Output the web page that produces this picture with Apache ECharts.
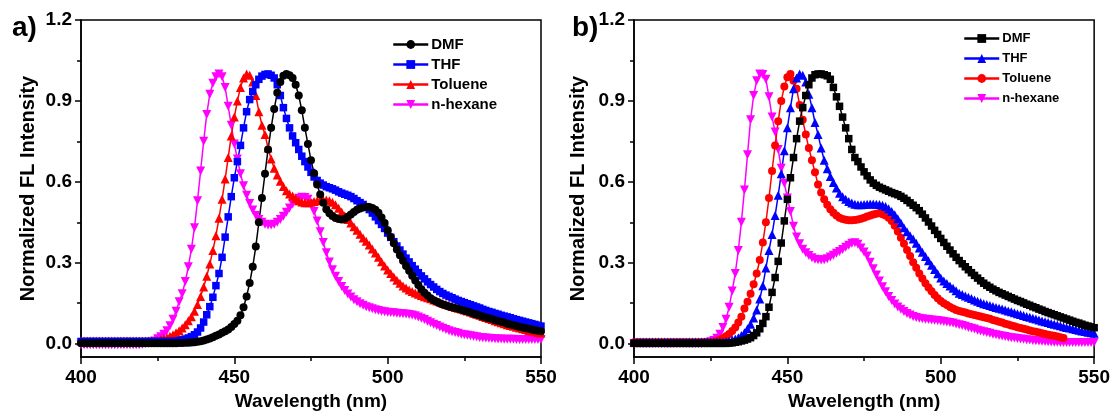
<!DOCTYPE html>
<html>
<head>
<meta charset="utf-8">
<script src="https://cdn.jsdelivr.net/npm/echarts@6/dist/echarts.min.js"></script>
<style>html,body{margin:0;padding:0;background:#fff}#c{width:1113px;height:416px}</style>
</head>
<body>
<div id="c"></div>
<script>
// Wavelength sampling (nm), 1 nm steps 400..550
var wavelengths = [];
for (var w = 400; w <= 550; w++) wavelengths.push(w);

var xTicks = [400, 450, 500, 550];
var yTicks = [0, 0.3, 0.6, 0.9, 1.2];
var yMinorTicks = [0.15, 0.45, 0.75, 1.05];
var legendNames = ['DMF', 'THF', 'Toluene', 'n-hexane'];

// ---- Panel a) ----
var aDMF = [
0.001,0.001,0.001,0.001,0.001,0.001,0.001,0.001,0.001,0.001,
0.001,0.001,0.001,0.001,0.001,0.001,0.001,0.001,0.001,0.001,
0.001,0.001,0.001,0.001,0.001,0.001,0.001,0.001,0.001,0.001,
0.001,0.001,0.002,0.002,0.003,0.003,0.004,0.005,0.007,0.009,
0.012,0.015,0.019,0.024,0.029,0.034,0.04,0.046,0.052,0.062,
0.073,0.085,0.105,0.135,0.175,0.225,0.285,0.36,0.45,0.54,
0.63,0.72,0.8,0.87,0.93,0.97,0.993,1.0,0.995,0.985,
0.96,0.92,0.865,0.8,0.74,0.68,0.632,0.59,0.553,0.522,
0.498,0.483,0.473,0.466,0.462,0.46,0.463,0.47,0.479,0.488,
0.496,0.501,0.505,0.507,0.507,0.503,0.496,0.485,0.468,0.447,
0.42,0.395,0.372,0.349,0.328,0.307,0.288,0.27,0.252,0.234,
0.217,0.202,0.189,0.178,0.168,0.161,0.155,0.15,0.145,0.141,
0.138,0.135,0.132,0.129,0.126,0.122,0.119,0.115,0.111,0.108,
0.104,0.101,0.097,0.094,0.091,0.087,0.084,0.081,0.078,0.074,
0.071,0.068,0.065,0.062,0.06,0.057,0.055,0.052,0.05,0.048,
0.046];
var aTHF = [
0.008,0.008,0.008,0.008,0.008,0.008,0.008,0.008,0.008,0.008,
0.008,0.008,0.008,0.008,0.008,0.008,0.008,0.008,0.008,0.008,
0.008,0.008,0.008,0.008,0.008,0.008,0.008,0.008,0.008,0.008,
0.008,0.009,0.011,0.014,0.017,0.021,0.026,0.033,0.043,0.058,
0.08,0.107,0.137,0.172,0.215,0.26,0.32,0.395,0.47,0.545,
0.615,0.675,0.735,0.8,0.86,0.905,0.935,0.96,0.98,0.992,
0.998,1.0,0.995,0.985,0.96,0.92,0.875,0.835,0.8,0.77,
0.745,0.72,0.695,0.675,0.655,0.635,0.618,0.605,0.595,0.588,
0.582,0.578,0.574,0.569,0.563,0.558,0.554,0.55,0.545,0.538,
0.53,0.523,0.516,0.508,0.497,0.484,0.47,0.456,0.442,0.427,
0.41,0.394,0.378,0.362,0.347,0.332,0.317,0.303,0.289,0.276,
0.263,0.251,0.24,0.229,0.219,0.21,0.201,0.193,0.186,0.18,
0.175,0.17,0.165,0.16,0.156,0.152,0.148,0.144,0.14,0.136,
0.132,0.127,0.123,0.119,0.116,0.112,0.109,0.105,0.102,0.099,
0.096,0.092,0.089,0.086,0.083,0.08,0.077,0.074,0.071,0.068,
0.065];
var aToluene = [
0.01,0.01,0.01,0.01,0.01,0.01,0.01,0.01,0.01,0.01,
0.01,0.01,0.01,0.01,0.01,0.01,0.01,0.01,0.01,0.01,
0.01,0.01,0.01,0.01,0.01,0.012,0.015,0.018,0.022,0.027,
0.033,0.04,0.048,0.058,0.07,0.085,0.1,0.12,0.145,0.175,
0.21,0.25,0.295,0.345,0.4,0.465,0.535,0.61,0.69,0.77,
0.84,0.9,0.95,0.985,1.0,0.995,0.97,0.92,0.86,0.81,
0.775,0.725,0.685,0.65,0.625,0.602,0.583,0.567,0.555,0.547,
0.538,0.53,0.525,0.522,0.522,0.524,0.527,0.53,0.532,0.533,
0.533,0.53,0.524,0.515,0.502,0.488,0.474,0.46,0.447,0.433,
0.42,0.406,0.392,0.38,0.366,0.351,0.336,0.32,0.304,0.288,
0.273,0.26,0.247,0.235,0.224,0.214,0.206,0.199,0.193,0.188,
0.183,0.178,0.174,0.17,0.166,0.162,0.158,0.154,0.15,0.146,
0.142,0.138,0.134,0.131,0.128,0.125,0.121,0.117,0.113,0.109,
0.105,0.101,0.097,0.093,0.089,0.085,0.081,0.077,0.074,0.07,
0.067,0.064,0.061,0.058,0.055,0.052,0.049,0.047,0.044,0.041,
0.039];
var aHexane = [
-0.004,-0.004,-0.004,-0.004,-0.004,-0.004,-0.004,-0.004,-0.004,-0.004,
-0.004,-0.004,-0.004,-0.004,-0.004,-0.004,-0.004,-0.004,-0.004,-0.004,
-0.002,0.0,0.003,0.006,0.01,0.018,0.025,0.035,0.048,0.066,
0.09,0.12,0.155,0.185,0.23,0.285,0.35,0.43,0.53,0.64,
0.75,0.85,0.925,0.965,0.99,1.0,0.99,0.95,0.88,0.81,
0.74,0.685,0.63,0.585,0.55,0.52,0.495,0.475,0.46,0.45,
0.443,0.44,0.44,0.443,0.45,0.46,0.472,0.487,0.503,0.518,
0.53,0.539,0.543,0.542,0.535,0.518,0.49,0.455,0.415,0.375,
0.337,0.303,0.274,0.25,0.23,0.212,0.197,0.184,0.173,0.163,
0.155,0.148,0.142,0.137,0.133,0.129,0.126,0.123,0.12,0.118,
0.116,0.115,0.114,0.113,0.112,0.111,0.11,0.108,0.106,0.103,
0.099,0.094,0.089,0.083,0.077,0.072,0.067,0.062,0.057,0.052,
0.048,0.044,0.041,0.038,0.035,0.033,0.031,0.029,0.027,0.025,
0.023,0.022,0.021,0.02,0.019,0.018,0.017,0.017,0.016,0.016,
0.016,0.016,0.015,0.015,0.015,0.015,0.015,0.015,0.015,0.015,
0.015];

// ---- Panel b) ----
var bDMF = [
0.001,0.001,0.001,0.001,0.001,0.001,0.001,0.001,0.001,0.001,
0.001,0.001,0.001,0.001,0.001,0.001,0.001,0.001,0.001,0.001,
0.001,0.001,0.001,0.001,0.001,0.001,0.001,0.001,0.001,0.001,
0.001,0.002,0.003,0.005,0.007,0.01,0.013,0.017,0.022,0.03,
0.04,0.055,0.075,0.1,0.135,0.19,0.245,0.305,0.373,0.455,
0.535,0.615,0.69,0.76,0.825,0.875,0.92,0.96,0.985,0.997,
1.0,1.0,0.997,0.993,0.98,0.95,0.915,0.88,0.84,0.8,
0.76,0.72,0.69,0.675,0.655,0.637,0.622,0.607,0.595,0.587,
0.58,0.575,0.57,0.565,0.56,0.556,0.552,0.546,0.539,0.531,
0.522,0.513,0.504,0.493,0.48,0.466,0.451,0.436,0.42,0.405,
0.39,0.375,0.361,0.347,0.333,0.32,0.308,0.296,0.285,0.274,
0.263,0.253,0.243,0.233,0.224,0.216,0.209,0.202,0.196,0.19,
0.185,0.18,0.175,0.17,0.165,0.16,0.156,0.151,0.146,0.142,
0.137,0.133,0.128,0.124,0.119,0.115,0.111,0.107,0.103,0.099,
0.095,0.091,0.087,0.083,0.079,0.076,0.072,0.068,0.065,0.062,
0.059];
var bTHF = [
0.006,0.006,0.006,0.006,0.006,0.006,0.006,0.006,0.006,0.006,
0.006,0.006,0.006,0.006,0.006,0.006,0.006,0.006,0.006,0.006,
0.006,0.006,0.006,0.006,0.006,0.006,0.006,0.006,0.006,0.006,
0.008,0.01,0.013,0.017,0.022,0.03,0.04,0.055,0.072,0.095,
0.125,0.165,0.215,0.28,0.345,0.405,0.475,0.55,0.63,0.715,
0.8,0.875,0.945,0.985,1.0,0.995,0.97,0.925,0.875,0.82,
0.775,0.725,0.68,0.648,0.62,0.597,0.577,0.558,0.545,0.535,
0.527,0.521,0.517,0.515,0.515,0.516,0.517,0.518,0.518,0.517,
0.516,0.513,0.508,0.5,0.49,0.478,0.463,0.447,0.43,0.415,
0.4,0.388,0.372,0.355,0.339,0.323,0.307,0.291,0.275,0.259,
0.243,0.232,0.223,0.214,0.205,0.196,0.187,0.182,0.177,0.172,
0.167,0.162,0.157,0.152,0.148,0.145,0.141,0.138,0.134,0.131,
0.128,0.125,0.121,0.118,0.114,0.111,0.108,0.104,0.101,0.098,
0.094,0.091,0.088,0.084,0.081,0.078,0.075,0.072,0.069,0.066,
0.063,0.06,0.058,0.055,0.052,0.05,0.047,0.045,0.042,0.04,
0.038];
// Toluene in panel b stops at 540 nm
var bToluene = [
0.005,0.005,0.005,0.005,0.005,0.005,0.005,0.005,0.005,0.005,
0.005,0.005,0.005,0.005,0.005,0.005,0.005,0.005,0.005,0.005,
0.005,0.005,0.005,0.005,0.005,0.005,0.007,0.01,0.014,0.02,
0.027,0.036,0.047,0.06,0.078,0.1,0.13,0.155,0.185,0.22,
0.26,0.31,0.375,0.45,0.54,0.64,0.735,0.825,0.9,0.953,
0.988,1.0,0.975,0.945,0.885,0.83,0.775,0.725,0.68,0.635,
0.59,0.56,0.535,0.515,0.498,0.485,0.475,0.467,0.462,0.459,
0.457,0.457,0.458,0.46,0.463,0.467,0.471,0.475,0.479,0.482,
0.484,0.48,0.475,0.467,0.455,0.437,0.416,0.393,0.37,0.347,
0.325,0.302,0.281,0.26,0.241,0.224,0.208,0.194,0.18,0.168,
0.158,0.15,0.143,0.136,0.13,0.125,0.121,0.118,0.115,0.112,
0.109,0.106,0.103,0.101,0.098,0.095,0.092,0.088,0.085,0.081,
0.078,0.074,0.071,0.067,0.064,0.061,0.058,0.055,0.052,0.049,
0.046,0.044,0.041,0.038,0.036,0.033,0.031,0.029,0.026,0.024,
0.021];
var bHexane = [
0.0,0.0,0.0,0.0,0.0,0.0,0.0,0.0,0.0,0.0,
0.0,0.0,0.0,0.0,0.0,0.0,0.0,0.0,0.0,0.0,
0.0,0.0,0.0,0.002,0.004,0.007,0.012,0.02,0.035,0.06,
0.09,0.135,0.195,0.26,0.345,0.45,0.57,0.7,0.83,0.92,
0.975,1.0,0.998,0.98,0.915,0.84,0.785,0.72,0.65,0.595,
0.54,0.49,0.435,0.395,0.37,0.35,0.337,0.327,0.318,0.313,
0.311,0.31,0.311,0.315,0.321,0.328,0.335,0.342,0.349,0.357,
0.365,0.372,0.374,0.368,0.355,0.34,0.325,0.302,0.278,0.254,
0.232,0.211,0.192,0.175,0.16,0.147,0.136,0.127,0.119,0.112,
0.106,0.101,0.097,0.094,0.092,0.09,0.089,0.088,0.087,0.086,
0.084,0.082,0.08,0.078,0.076,0.073,0.07,0.067,0.064,0.06,
0.057,0.054,0.05,0.047,0.044,0.041,0.038,0.035,0.033,0.03,
0.028,0.026,0.024,0.022,0.021,0.019,0.017,0.016,0.014,0.013,
0.012,0.011,0.01,0.009,0.008,0.007,0.006,0.005,0.005,0.004,
0.004,0.004,0.004,0.004,0.004,0.004,0.004,0.004,0.004,0.004,
0.004];

function pairs(vals) {
  var out = [];
  for (var i = 0; i < vals.length; i++) out.push([wavelengths[i], vals[i]]);
  return out;
}

var FONT = 'Liberation Sans, Arial, sans-serif';
var INV_TRI = 'path://M0,0L10,0L5,9Z';

function mkSeries(name, vals, grid, color, symbol, size) {
  return {
    name: name, type: 'line', xAxisIndex: grid, yAxisIndex: grid,
    data: pairs(vals), symbol: symbol, symbolSize: size, showSymbol: true,
    lineStyle: { color: color, width: 1.5 }, itemStyle: { color: color },
    emphasis: { disabled: true }, animation: false, clip: true
  };
}

function xAxis(gi) {
  return {
    type: 'value', gridIndex: gi, min: 400, max: 550, interval: 50,
    name: 'Wavelength (nm)', nameLocation: 'middle', nameGap: 21,
    nameTextStyle: { fontFamily: FONT, fontWeight: 'bold', fontSize: 19, color: '#000' },
    axisLine: { show: true, onZero: false, lineStyle: { color: '#000', width: 1.5 } },
    axisTick: { show: true, inside: false, length: 7, lineStyle: { color: '#000', width: 1.5 } },
    minorTick: { show: true, splitNumber: 2, length: 4, lineStyle: { color: '#000', width: 1.5 } },
    axisLabel: { fontFamily: FONT, fontWeight: 'bold', fontSize: 19, color: '#000', margin: 11,
                 customValues: xTicks },
    splitLine: { show: false }, minorSplitLine: { show: false }
  };
}
function yAxis(gi, gap) {
  return {
    type: 'value', gridIndex: gi, min: -0.05, max: 1.2,
    name: 'Normalized FL Intensity', nameLocation: 'middle', nameGap: gap,
    nameTextStyle: { fontFamily: FONT, fontWeight: 'bold', fontSize: 20, color: '#000' },
    axisLine: { show: true, onZero: false, lineStyle: { color: '#000', width: 1.5 } },
    axisTick: { show: true, inside: false, length: 6, customValues: yTicks, lineStyle: { color: '#000', width: 1.5 } },
    axisLabel: { fontFamily: FONT, fontWeight: 'bold', fontSize: 19, color: '#000', margin: 9,
                 customValues: yTicks, formatter: function (v) { return v.toFixed(1); } },
    splitLine: { show: false }
  };
}
function yMinor(gi) {
  return {
    type: 'value', gridIndex: gi, min: -0.05, max: 1.2, position: 'left',
    axisLine: { show: false },
    axisTick: { show: true, inside: false, length: 4, customValues: yMinorTicks, lineStyle: { color: '#000', width: 1.5 } },
    axisLabel: { show: false }, splitLine: { show: false }
  };
}
function legend(left, top, names, fs) {
  return {
    orient: 'vertical', left: left, top: top, data: names,
    itemWidth: 35, itemHeight: 11, itemGap: 20 - fs, padding: 0,
    lineStyle: { width: 2.5 },
    formatter: function (n) { return n.replace(/^[ab]-/, ''); },
    textStyle: { fontFamily: FONT, fontWeight: 'bold', fontSize: fs, color: '#000', padding: [0, 0, 0, -2] },
    selectedMode: false
  };
}

var chart = echarts.init(document.getElementById('c'), null, { renderer: 'canvas', width: 1113, height: 416 });
chart.setOption({
  backgroundColor: '#fff',
  animation: false,
  grid: [
    { left: 81, top: 20, width: 460, height: 338, show: true, borderColor: '#000', borderWidth: 1.5, backgroundColor: 'transparent' },
    { left: 634, top: 20, width: 462, height: 338, show: true, borderColor: '#000', borderWidth: 1.5, backgroundColor: 'transparent' }
  ],
  xAxis: [xAxis(0), xAxis(1)],
  yAxis: [yAxis(0, 43), yAxis(1, 46), yMinor(0), yMinor(1)],
  legend: [
    legend(392, 37, ['a-DMF', 'a-THF', 'a-Toluene', 'a-n-hexane'], 15),
    legend(963, 32, ['b-DMF', 'b-THF', 'b-Toluene', 'b-n-hexane'], 13)
  ],
  graphic: [
    { type: 'text', left: 12, top: 14, style: { text: 'a)', font: 'bold 28px ' + FONT, fill: '#000' } },
    { type: 'text', left: 572, top: 14, style: { text: 'b)', font: 'bold 28px ' + FONT, fill: '#000' } }
  ],
  series: [
    mkSeries('a-n-hexane', aHexane, 0, '#ff00ff', INV_TRI, 9),
    mkSeries('a-Toluene', aToluene, 0, '#ff0000', 'triangle', 9),
    mkSeries('a-THF', aTHF, 0, '#0000ff', 'rect', 7.5),
    mkSeries('a-DMF', aDMF, 0, '#000000', 'circle', 8),
    mkSeries('b-n-hexane', bHexane, 1, '#ff00ff', INV_TRI, 9),
    mkSeries('b-Toluene', bToluene, 1, '#ff0000', 'circle', 8),
    mkSeries('b-THF', bTHF, 1, '#0000ff', 'triangle', 9),
    mkSeries('b-DMF', bDMF, 1, '#000000', 'rect', 7.5)
  ]
});
</script>
</body>
</html>
